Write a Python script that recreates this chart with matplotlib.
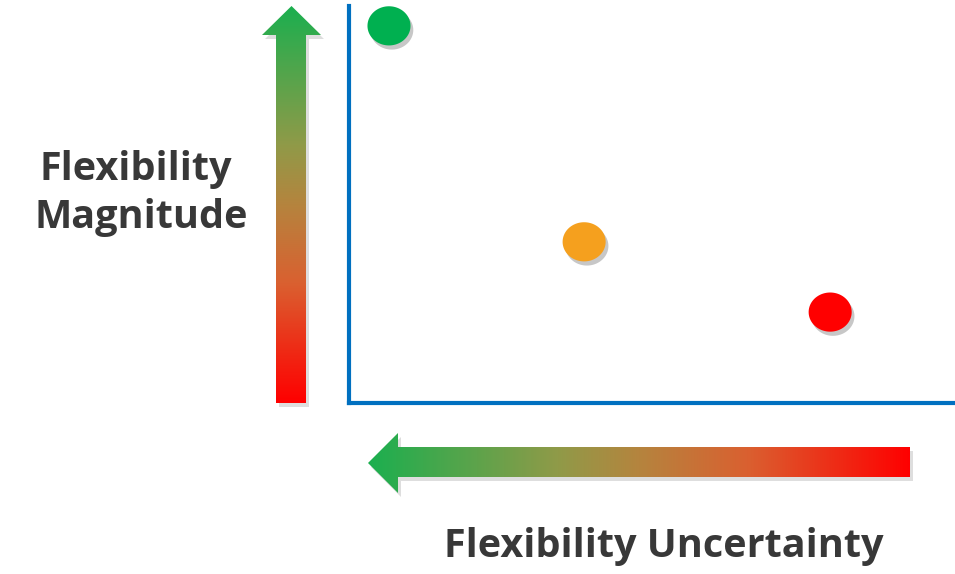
import numpy as np
import matplotlib
matplotlib.use("Agg")
import matplotlib.pyplot as plt
from matplotlib.colors import LinearSegmentedColormap
from matplotlib.patches import Polygon
from matplotlib.path import Path
import matplotlib.patheffects as pe

# three cases: position in the magnitude / uncertainty space
case_uncertainty = [0.66, 3.88, 7.94]
case_magnitude = [9.50, 4.06, 2.29]
case_colors = ["#00B050", "#F5A01E", "#FF0000"]

y_label = ["Flexibility", "Magnitude"]
x_label = "Flexibility Uncertainty"

W, H = 955, 574
fig = plt.figure(figsize=(W / 100, H / 100), dpi=100)
plt.rcParams['font.family'] = ['Open Sans', 'DejaVu Sans']

shadow = [pe.SimplePatchShadow(offset=(2, -3), shadow_rgbFace="#000000", alpha=0.25),
          pe.Normal()]

# main axes: left spine at x=349, bottom spine at y=403
ax = fig.add_axes([349 / W, (H - 403) / H, (W - 349) / W, (403 - 6) / H])
ax.set_xlim(0, 10)
ax.set_ylim(0, 10)
ax.patch.set_alpha(0)
ax.set_xticks([])
ax.set_yticks([])
for side in ["top", "right"]:
    ax.spines[side].set_visible(False)
for side in ["left", "bottom"]:
    ax.spines[side].set_color("#0070C0")
    ax.spines[side].set_linewidth(3.0)
    ax.spines[side].set_path_effects(shadow)

# slightly wide ellipse marker
t = np.linspace(0, 2 * np.pi, 80)
ell = Path(np.column_stack([np.cos(t), 0.91 * np.sin(t)]))
sc = ax.scatter(case_uncertainty, case_magnitude, s=31 ** 2, c=case_colors,
                marker=ell, linewidths=0, clip_on=False, zorder=3)
sc.set_path_effects([pe.SimplePatchShadow(offset=(2, -3), shadow_rgbFace="#000000",
                                          alpha=0.22), pe.Normal()])

# overlay in pixel coordinates for arrows and labels
ov = fig.add_axes([0, 0, 1, 1], zorder=-1)
ov.set_xlim(0, W)
ov.set_ylim(H, 0)
ov.axis("off")

cmap = LinearSegmentedColormap.from_list(
    "gr", [(0.0, "#1BAF4F"), (0.35, "#909A48"), (0.5, "#B5843E"),
           (0.7, "#DA6030"), (1.0, "#FF0000")])


def grad_arrow(verts, vertical):
    poly = Polygon(verts, closed=True, facecolor="none", edgecolor="none")
    ov.add_patch(poly)
    sh = Polygon(np.array(verts) + [3, 4], closed=True, facecolor="#000000",
                 edgecolor="none", alpha=0.13, zorder=0)
    ov.add_patch(sh)
    xs = [v[0] for v in verts]
    ys = [v[1] for v in verts]
    g = np.linspace(0, 1, 256)
    ext = (min(xs), max(xs), max(ys), min(ys))
    if vertical:
        # top green -> bottom red
        im = ov.imshow(g[:, None], cmap=cmap, aspect="auto", extent=ext,
                       origin="upper", zorder=2)
    else:
        im = ov.imshow(g[None, :], cmap=cmap, aspect="auto", extent=ext, zorder=2)
    im.set_clip_path(poly)


grad_arrow([(291.5, 6), (321, 35), (306, 35), (306, 403), (276, 403),
            (276, 35), (262, 35)], vertical=True)
grad_arrow([(368, 463), (398, 433), (398, 447), (910, 447), (910, 477),
            (398, 477), (398, 493)], vertical=False)
ov.set_xlim(0, W)
ov.set_ylim(H, 0)

txt = dict(fontsize=28.5, fontweight="bold", color="#383838", ha="center", va="baseline")
ov.text(136, 180, y_label[0], **txt)
ov.text(141, 228, y_label[1], **txt)
ov.text(664, 557, x_label, **txt)

fig.savefig("out.png", dpi=100)
